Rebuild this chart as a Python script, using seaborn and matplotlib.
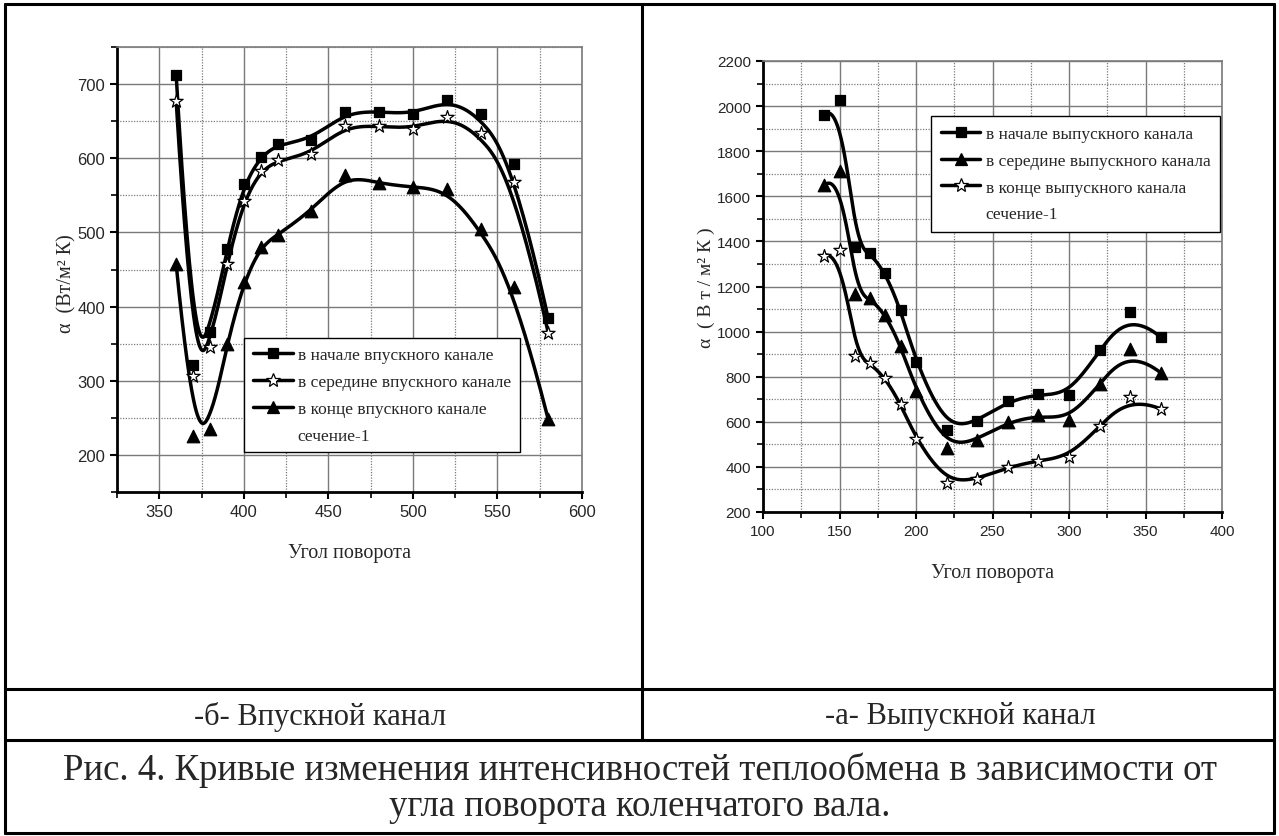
import numpy as np
import pandas as pd
import matplotlib
matplotlib.use("Agg")
import matplotlib.pyplot as plt
import seaborn as sns
from matplotlib.lines import Line2D
from matplotlib.ticker import MultipleLocator

# ---------------- data ----------------
# -б- Впускной канал (left panel)
intake_angle = [360, 370, 380, 390, 400, 410, 420, 440, 460, 480, 500, 520, 540, 560, 580]
intake_start = [712, 321, 366, 478, 565, 602, 619, 625, 662, 663, 659, 679, 659, 592, 384]
intake_mid = [677, 307, 345, 458, 543, 583, 597, 606, 644, 643, 640, 656, 634, 568, 365]
intake_end = [457, 226, 235, 350, 433, 481, 497, 529, 578, 566, 561, 558, 504, 427, 248]
intake_labels = ["в начале впускного канале",
                 "в середине впускного канале",
                 "в конце впускного канале"]

# -а- Выпускной канал (right panel)
exhaust_angle = [140, 150, 160, 170, 180, 190, 200, 220, 240, 260, 280, 300, 320, 340, 360]
exhaust_start = [1961, 2025, 1377, 1349, 1260, 1097, 864, 565, 602, 691, 723, 719, 919, 1089, 975]
exhaust_mid = [1648, 1714, 1167, 1149, 1075, 938, 738, 484, 521, 598, 628, 610, 768, 923, 817]
exhaust_end = [1337, 1364, 891, 860, 793, 679, 524, 329, 346, 398, 428, 445, 580, 712, 657]
exhaust_labels = ["в начале выпускного канала",
                  "в середине выпускного канала",
                  "в конце выпускного канала"]

section_label = "сечение-1"
ylabel_left = "α  (Вт/м² К)"
ylabel_right = "α  ( В т / м² К )"
xlabel_text = "Угол поворота"
caption_left = "-б- Впускной канал"
caption_right = "-а- Выпускной канал"
caption_fig = ["Рис. 4. Кривые изменения интенсивностей теплообмена в зависимости от",
               "угла поворота коленчатого вала."]


# ------------- smoothing (clamped cubic B-spline, data as control points) -------------
def bspline(xs, ys, n=600, k=3):
    P = np.column_stack([np.asarray(xs, float), np.asarray(ys, float)])
    m = len(P)
    knots = np.concatenate([np.zeros(k), np.linspace(0, 1, m - k + 1), np.ones(k)])
    t = np.linspace(0, 1, n)
    t[-1] -= 1e-9
    N = np.zeros((n, len(knots) - 1))
    for i in range(len(knots) - 1):
        N[:, i] = (knots[i] <= t) & (t < knots[i + 1])
    for d in range(1, k + 1):
        newN = np.zeros((n, len(knots) - 1 - d))
        for i in range(len(knots) - 1 - d):
            a = knots[i + d] - knots[i]
            b = knots[i + d + 1] - knots[i + 1]
            left = (t - knots[i]) / a * N[:, i] if a > 0 else 0.0
            right = (knots[i + d + 1] - t) / b * N[:, i + 1] if b > 0 else 0.0
            newN[:, i] = left + right
        N = newN
    C = N @ P
    return C[:, 0], C[:, 1]


# ---------------- style ----------------
sns.set_style("white")
plt.rcParams["font.family"] = ["Liberation Serif", "DejaVu Serif"]
TICKFONT = ["Liberation Sans Narrow", "Liberation Sans", "DejaVu Sans"]

fig = plt.figure(figsize=(12.79, 8.37), dpi=100)
W, H = 1279, 837


def px_axes(x0, y0, x1, y1):
    return fig.add_axes([x0 / W, 1 - y1 / H, (x1 - x0) / W, (y1 - y0) / H])


axL = px_axes(117, 48, 582, 493)
axR = px_axes(763, 62, 1222, 513)


def draw_series(ax, xs, ys, marker, ms):
    cx, cy = bspline(xs, ys)
    sns.lineplot(x=cx, y=cy, ax=ax, color="black", lw=2.5, sort=False, estimator=None)
    face = "white" if marker == "*" else "black"
    sns.scatterplot(x=xs, y=ys, ax=ax, marker=marker, s=ms ** 2, color=face,
                    edgecolor="black", linewidth=0.9, zorder=5)


def style_axes(ax, xlim, ylim, xmaj, ymaj, xmin_step, ymin_step, tick_fs):
    ax.set_xlim(*xlim)
    ax.set_ylim(*ylim)
    ax.set_xticks(xmaj)
    ax.set_yticks(ymaj)
    ax.xaxis.set_minor_locator(MultipleLocator(xmin_step))
    ax.yaxis.set_minor_locator(MultipleLocator(ymin_step))
    ax.grid(which="major", color="#7a7a7a", lw=1.0, ls="-")
    ax.grid(which="minor", color="#7a7a7a", lw=0.9, ls=(0, (1, 1.2)))
    ax.set_axisbelow(True)
    for s in ["left", "bottom"]:
        ax.spines[s].set_color("black")
        ax.spines[s].set_linewidth(2.0)
    for s in ["top", "right"]:
        ax.spines[s].set_color("#7a7a7a")
        ax.spines[s].set_linewidth(1.2)
    ax.tick_params(which="major", direction="out", length=5, width=1.5, color="black",
                   left=True, bottom=True)
    ax.tick_params(which="minor", direction="out", length=4, width=1.2, color="black",
                   left=True, bottom=True)
    for lab in ax.get_xticklabels() + ax.get_yticklabels():
        lab.set_family(TICKFONT)
        lab.set_fontsize(tick_fs)


# ---- left panel ----
for ys, mk, ms in zip([intake_start, intake_mid, intake_end], ["s", "*", "^"], [7, 10, 9]):
    draw_series(axL, intake_angle, ys, mk, ms)
style_axes(axL, (325, 600), (150, 750), [350, 400, 450, 500, 550, 600],
           [200, 300, 400, 500, 600, 700], 25, 50, 12)
axL.set_xlabel(xlabel_text, fontsize=14.5)
axL.set_ylabel(ylabel_left, fontsize=14.5)
axL.xaxis.set_label_coords(0.5, -0.115)
axL.yaxis.set_label_coords(-0.088, 0.47)

# ---- right panel ----
for ys, mk, ms in [(exhaust_start, "s", 7), (exhaust_mid, "^", 9), (exhaust_end, "*", 10)]:
    draw_series(axR, exhaust_angle, ys, mk, ms)
style_axes(axR, (100, 400), (200, 2200), list(range(100, 401, 50)),
           list(range(200, 2201, 200)), 25, 100, 11)
axR.set_xlabel(xlabel_text, fontsize=14.5)
axR.set_ylabel(ylabel_right, fontsize=14)
axR.xaxis.set_label_coords(0.5, -0.113)
axR.yaxis.set_label_coords(-0.105, 0.5)


def handle(marker, ms):
    face = "white" if marker == "*" else "black"
    return Line2D([], [], color="black", lw=2.5, marker=marker, markersize=ms,
                  markerfacecolor=face, markeredgecolor="black", markeredgewidth=0.9)


blank = Line2D([], [], color="none")

legL = axL.legend([handle("s", 7), handle("*", 10), handle("^", 9), blank],
                  intake_labels + [section_label],
                  loc="upper left", bbox_to_anchor=(0.273, 0.346), borderaxespad=0,
                  fontsize=12.5, frameon=True, fancybox=False, edgecolor="black",
                  framealpha=1, handlelength=2.3, handletextpad=0.3, labelspacing=0.62,
                  borderpad=0.5)
legL.get_frame().set_linewidth(1.0)

legR = axR.legend([handle("s", 7), handle("^", 9), handle("*", 10), blank],
                  exhaust_labels + [section_label],
                  loc="upper left", bbox_to_anchor=(0.366, 0.878), borderaxespad=0,
                  fontsize=12.5, frameon=True, fancybox=False, edgecolor="black",
                  framealpha=1, handlelength=2.3, handletextpad=0.3, labelspacing=0.62,
                  borderpad=0.55)
legR.get_frame().set_linewidth(1.0)


# ---------------- table frame & captions ----------------
def fline(x0, y0, x1, y1):
    fig.add_artist(Line2D([x0 / W, x1 / W], [1 - y0 / H, 1 - y1 / H],
                          color="black", lw=2.2, transform=fig.transFigure))


fline(5, 5, 1274, 5)
fline(5, 834, 1274, 834)
fline(5, 5, 5, 834)
fline(1274, 5, 1274, 834)
fline(642, 5, 642, 741)
fline(5, 690, 1274, 690)
fline(5, 741, 1274, 741)

fig.text(320 / W, 1 - 717 / H, caption_left, ha="center", va="center", fontsize=22)
fig.text(960 / W, 1 - 717 / H, caption_right, ha="center", va="center", fontsize=22)
fig.text(640 / W, 1 - 770 / H, caption_fig[0], ha="center", va="center", fontsize=26.5)
fig.text(640 / W, 1 - 807 / H, caption_fig[1], ha="center", va="center", fontsize=26.5)

fig.savefig("out.png", dpi=100)
